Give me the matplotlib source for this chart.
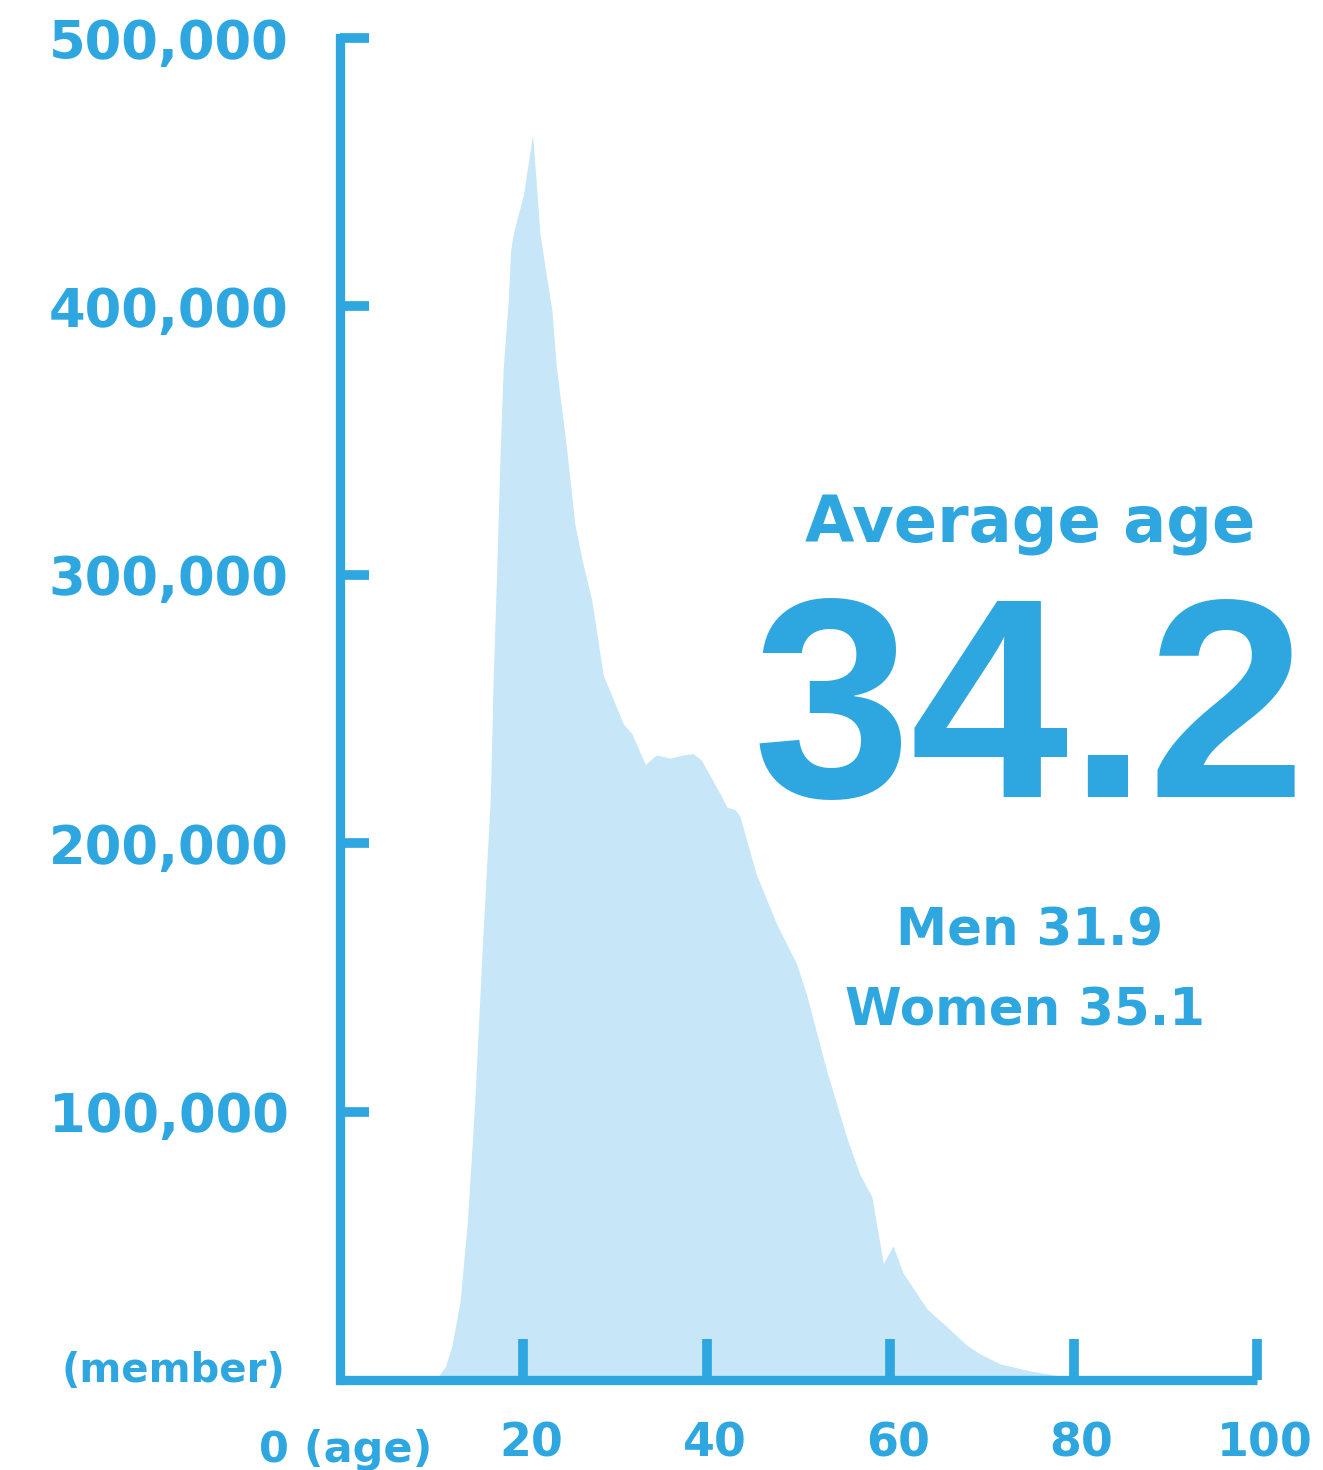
import matplotlib
matplotlib.use("Agg")
import matplotlib.pyplot as plt
import matplotlib.transforms as mtransforms

plt.rcParams['font.family'] = ['DejaVu Sans']

# ---- data ----
ages = [10.4, 11.5, 12.2, 13.1, 13.9, 14.7, 15.5, 16.4, 16.7, 17.1, 17.45, 17.8,
        18.35, 18.6, 18.9, 19.4, 20.0, 21.0, 21.3, 21.8, 22.4, 23.1, 23.6, 24.7,
        25.6, 26.5, 27.45, 28.7, 30.9, 31.8, 33.3, 34.5, 36.0, 37.4, 38.5, 39.4,
        41.6, 42.2, 43.1, 43.6, 45.4, 47.6, 49.8, 50.9, 53.1, 55.3, 56.7, 58.0,
        59.25, 60.3, 61.4, 64.0, 66.2, 68.3, 69.8, 72.0, 75.2, 79.9, 100.0]
members = [0, 5000, 12700, 29500, 59300, 104100, 160100, 217500, 260800, 302600,
           344000, 377200, 402200, 420500, 427200, 433900, 441400, 464100, 450700,
           427200, 413800, 398800, 377200, 347400, 319000, 304100, 290600, 262700,
           244400, 241000, 229300, 232900, 231700, 232900, 233400, 231000, 217500,
           213400, 212500, 210100, 188400, 170000, 155000, 143300, 114900, 89900,
           76500, 68300, 43300, 50000, 39900, 26500, 19800, 13100, 9700, 6000,
           3400, 700, 0]

x_ticks = [20, 40, 60, 80, 100]
x_tick_labels = ["20", "40", "60", "80", "100"]
y_ticks = [100000, 200000, 300000, 400000, 500000]
y_tick_labels = ["100,000", "200,000", "300,000", "400,000", "500,000"]

title_text = "Average age"
avg_text = "34.2"
men_text = "Men 31.9"
women_text = "Women 35.1"
y_unit = "(member)"
x_unit = "0 (age)"

BLUE = "#2EA7E0"
FILL = "#C7E6F8"

W, H = 1323, 1470
fig = plt.figure(figsize=(W / 100, H / 100), dpi=100)
fig.patch.set_facecolor("white")

def px(x, y):
    return x / W, 1 - y / H

ax = fig.add_axes([340 / W, (H - 1380) / H, 917 / W, 1342 / H])
ax.fill_between(ages, members, 0, color=FILL, linewidth=0, zorder=1)
ax.set_xlim(0, 100)
ax.set_ylim(0, 500000)

for s in ["top", "right"]:
    ax.spines[s].set_visible(False)
for s in ["left", "bottom"]:
    ax.spines[s].set_color(BLUE)
    ax.spines[s].set_linewidth(6.7)
    ax.spines[s].set_zorder(3)
ax.spines["left"].set_capstyle("projecting")
ax.spines["bottom"].set_capstyle("butt")

ax.set_xticks(x_ticks)
ax.set_xticklabels(x_tick_labels)
ax.set_yticks(y_ticks)
ax.set_yticklabels(y_tick_labels)

ax.tick_params(axis="y", direction="in", length=21, width=7, color=BLUE,
               labelcolor=BLUE, labelsize=38, pad=37)
ax.tick_params(axis="x", direction="in", length=29.5, width=7, color=BLUE,
               labelcolor=BLUE, labelsize=33, pad=30)
for lab in ax.get_yticklabels():
    lab.set_fontweight("bold")
off = mtransforms.ScaledTranslation(8 / 100, 0, fig.dpi_scale_trans)
for lab in ax.get_xticklabels():
    lab.set_fontweight("bold")
    lab.set_transform(lab.get_transform() + off)
for t in ax.xaxis.get_major_ticks() + ax.yaxis.get_major_ticks():
    t.tick1line.set_clip_on(False)
    t.tick1line.set_zorder(3)

# unit labels
fig.text(*px(285, 1382), y_unit, color=BLUE, fontsize=29, fontweight="bold",
         ha="right", va="baseline")
fig.text(*px(432, 1462), x_unit, color=BLUE, fontsize=31, fontweight="bold",
         ha="right", va="baseline")

# annotations
fig.text(*px(1030, 543), title_text, color=BLUE, fontsize=46, fontweight="bold",
         ha="center", va="baseline")
fig.text(*px(1030, 797), avg_text, color=BLUE, fontsize=205, fontweight="bold",
         family=["Liberation Sans", "DejaVu Sans"], ha="center", va="baseline")
fig.text(*px(1030, 945), men_text, color=BLUE, fontsize=37, fontweight="bold",
         ha="center", va="baseline")
fig.text(*px(1025, 1025), women_text, color=BLUE, fontsize=37, fontweight="bold",
         ha="center", va="baseline")

fig.savefig("out.png", dpi=100, facecolor="white")
